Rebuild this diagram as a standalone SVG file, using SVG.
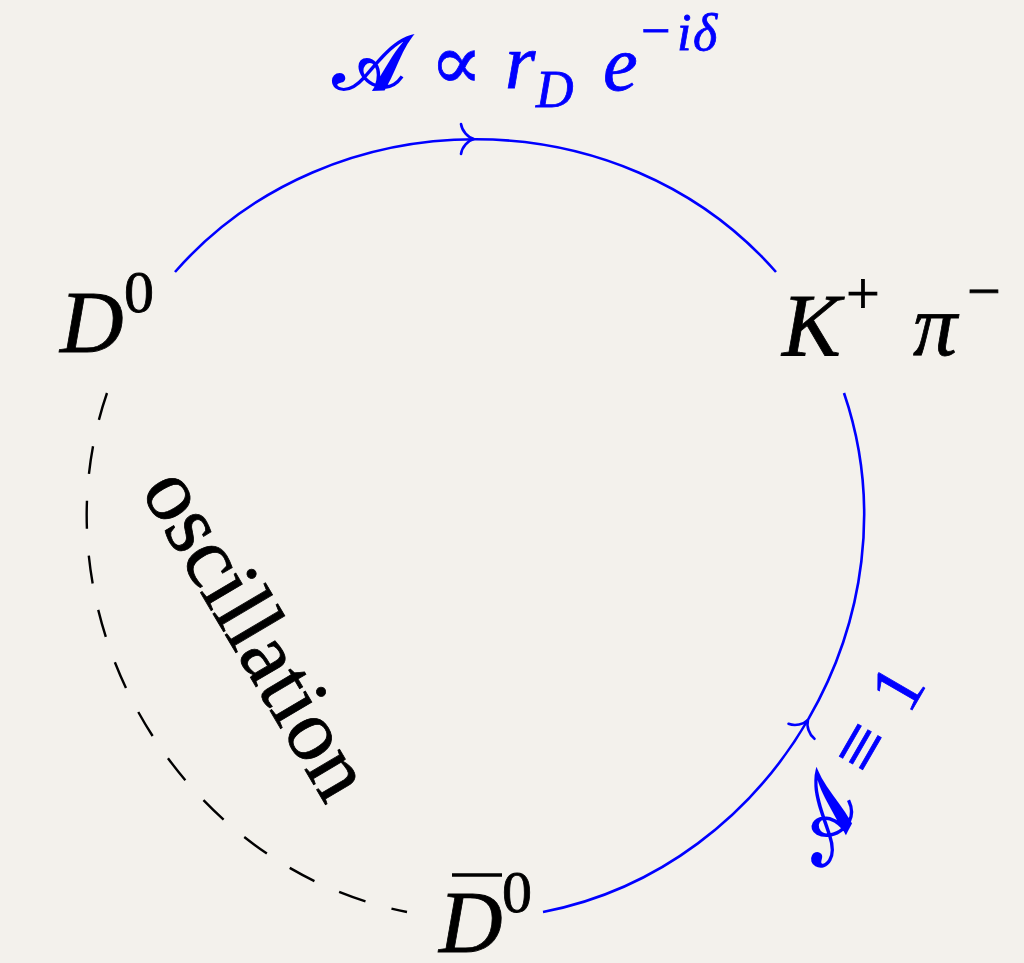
<svg xmlns="http://www.w3.org/2000/svg" width="1024" height="963" viewBox="0 0 1024 963">
  <defs>
    <style>
      .it { font-family: "Liberation Serif", "DejaVu Serif", serif; font-style: italic; }
      .up { font-family: "Liberation Serif", "DejaVu Serif", serif; font-style: normal; }
      .cal { font-family: "DejaVu Serif", "DejaVu Sans", "Noto Sans", serif; font-style: normal; }
      .blk { fill: #000; stroke: #000; stroke-width: 0.8; }
      .blu { fill: #0000FF; stroke: #0000FF; stroke-width: 0.8; }
      .heavy { stroke-width: 2.2; }
      .edge { fill: none; stroke: #0000FF; stroke-width: 2.6; stroke-linecap: butt; }
      .dash { fill: none; stroke: #000; stroke-width: 2.4; stroke-dasharray: 28 27; }
    </style>
    <path id="arr" d="M-13,-15 C-12,-8 -6,-1.5 0,0 C-6,1.5 -12,8 -13,15" fill="none" stroke="#0000FF" stroke-width="2.6" stroke-linecap="round"/>
  </defs>
  <rect x="0" y="0" width="1024" height="963" fill="#F3F1EC"/>

  <g id="connectors">
    <path class="edge" d="M175,272 C330,95 621,95 776,272"/>
    <use href="#arr" transform="translate(474,139)"/>
    <path class="edge" d="M543,912 C773.4,867.6 919.8,615 844,393"/>
    <use href="#arr" transform="translate(808,720) rotate(-60)"/>
    <path class="dash" d="M107,393 C30.9,614.7 176.9,867.3 407,912"/>
  </g>

  <g id="node-D0">
    <text class="it blk" x="60" y="352" font-size="88">D</text>
    <text class="up blk" x="124" y="312" font-size="60">0</text>
  </g>

  <g id="node-Kpi">
    <text class="it blk" x="782" y="355" font-size="88">K</text>
    <text class="up blk" x="846" y="313" font-size="60">+</text>
    <text class="it blk" x="913" y="355" font-size="88">π</text>
    <text class="up blk" x="967" y="311" font-size="60">−</text>
  </g>

  <g id="node-D0bar">
    <text class="it blk" x="439" y="952" font-size="88">D</text>
    <line x1="452" y1="875" x2="502" y2="875" stroke="#000" stroke-width="3.5"/>
    <text class="up blk" x="502" y="912" font-size="60">0</text>
  </g>

  <g id="label-top">
    <text class="cal blu heavy" x="333" y="89" font-size="76">𝒜</text>
    <text class="up blu" x="430" y="89" font-size="78">∝</text>
    <text class="it blu" x="505" y="88" font-size="78">r</text>
    <text class="it blu" x="536" y="107" font-size="52">D</text>
    <text class="it blu" x="603" y="90" font-size="78">e</text>
    <text class="up blu" x="641" y="48" font-size="52">−</text>
    <text class="it blu" x="677" y="50" font-size="52">i</text>
    <text class="it blu" x="693" y="50" font-size="52">δ</text>
  </g>

  <g id="label-right" transform="translate(918,700) rotate(-60)">
    <text class="cal blu heavy" x="-194" y="4" font-size="80">𝒜</text>
    <text class="up blu" x="-92" y="0" font-size="80">≡</text>
    <text class="up blu" x="-18" y="0" font-size="72">1</text>
  </g>

  <g id="label-osc" transform="translate(140,490) rotate(59.5)">
    <text class="up blk" x="0" y="0" font-size="88">oscillation</text>
  </g>
</svg>
